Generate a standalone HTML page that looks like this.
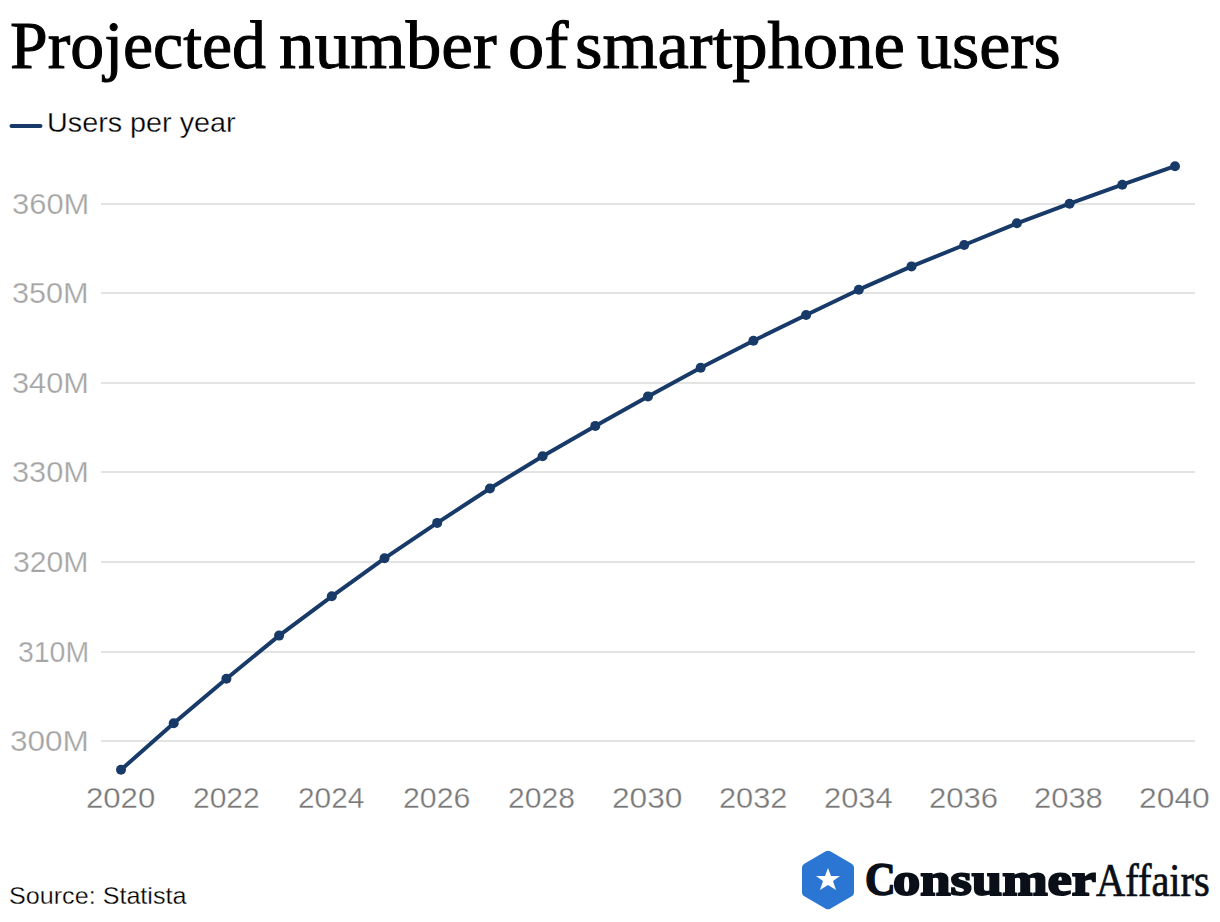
<!DOCTYPE html>
<html>
<head>
<meta charset="utf-8">
<style>
html,body{margin:0;padding:0;background:#fff;}
body{width:1220px;height:922px;position:relative;overflow:hidden;}
svg{position:absolute;left:0;top:0;}
.t{position:absolute;white-space:nowrap;line-height:1;transform-origin:0 0;}
</style>
</head>
<body>
<svg width="1220" height="922" viewBox="0 0 1220 922">
  <g fill="#e3e3e3">
    <rect x="101" y="203" width="1094" height="2"/>
    <rect x="101" y="292" width="1094" height="2"/>
    <rect x="101" y="382" width="1094" height="2"/>
    <rect x="101" y="471" width="1094" height="2"/>
    <rect x="101" y="561" width="1094" height="2"/>
    <rect x="101" y="651" width="1094" height="2"/>
    <rect x="101" y="740" width="1094" height="2"/>
  </g>
  <line x1="11.5" y1="126" x2="40.5" y2="126" stroke="#173a69" stroke-width="4" stroke-linecap="round"/>
  <polyline fill="none" stroke="#173a69" stroke-width="4" stroke-linejoin="round" points="121.0,769.8 173.7,723.3 226.4,678.7 279.1,635.6 331.8,596.3 384.5,558.3 437.2,522.9 489.9,488.5 542.6,456.2 595.3,425.9 648.0,396.4 700.7,367.8 753.4,340.8 806.1,315.0 858.8,289.7 911.5,266.4 964.2,245.0 1016.9,223.3 1069.6,203.7 1122.3,184.7 1175.0,166.2"/>
  <g fill="#173a69">
<circle cx="121.0" cy="769.8" r="5"/><circle cx="173.7" cy="723.3" r="5"/><circle cx="226.4" cy="678.7" r="5"/><circle cx="279.1" cy="635.6" r="5"/><circle cx="331.8" cy="596.3" r="5"/><circle cx="384.5" cy="558.3" r="5"/><circle cx="437.2" cy="522.9" r="5"/><circle cx="489.9" cy="488.5" r="5"/><circle cx="542.6" cy="456.2" r="5"/><circle cx="595.3" cy="425.9" r="5"/><circle cx="648.0" cy="396.4" r="5"/><circle cx="700.7" cy="367.8" r="5"/><circle cx="753.4" cy="340.8" r="5"/><circle cx="806.1" cy="315.0" r="5"/><circle cx="858.8" cy="289.7" r="5"/><circle cx="911.5" cy="266.4" r="5"/><circle cx="964.2" cy="245.0" r="5"/><circle cx="1016.9" cy="223.3" r="5"/><circle cx="1069.6" cy="203.7" r="5"/><circle cx="1122.3" cy="184.7" r="5"/><circle cx="1175.0" cy="166.2" r="5"/>
  </g>
  <path d="M828 855.2 L849.5 867.6 L849.5 892.4 L828 904.8 L806.5 892.4 L806.5 867.6 Z" fill="#2b76d2" stroke="#2b76d2" stroke-width="9" stroke-linejoin="round"/>
  <path d="M828 868 L831 876 L840 876 L833 881 L836 890 L828 885 L820 890 L823 881 L816 876 L825 876 Z" fill="#fff"/>
</svg>

<div class="t" style="left:9.70px;top:11.00px;transform:scaleX(0.9969);color:#000000;font-family:'Liberation Serif',serif;font-weight:400;font-size:68px;-webkit-text-stroke:1.0px #000000">Projected</div>
<div class="t" style="left:278.95px;top:11.00px;transform:scaleX(1.0483);color:#000000;font-family:'Liberation Serif',serif;font-weight:400;font-size:68px;-webkit-text-stroke:1.0px #000000">number</div>
<div class="t" style="left:508.37px;top:11.00px;transform:scaleX(1.0673);color:#000000;font-family:'Liberation Serif',serif;font-weight:400;font-size:68px;-webkit-text-stroke:1.0px #000000">of</div>
<div class="t" style="left:574.62px;top:11.00px;transform:scaleX(1.0401);color:#000000;font-family:'Liberation Serif',serif;font-weight:400;font-size:68px;-webkit-text-stroke:1.0px #000000">smartphone</div>
<div class="t" style="left:917.40px;top:11.00px;transform:scaleX(1.0283);color:#000000;font-family:'Liberation Serif',serif;font-weight:400;font-size:68px;-webkit-text-stroke:1.0px #000000">users</div>
<div class="t" style="left:46.85px;top:109.00px;transform:scaleX(1.0271);color:#000000;font-family:'Liberation Sans',sans-serif;font-weight:400;font-size:28px;-webkit-text-stroke:0.3px #fff">Users per year</div>
<div class="t" style="left:11.63px;top:190.02px;transform:scaleX(1.0657);color:#a5a5a5;font-family:'Liberation Sans',sans-serif;font-weight:400;font-size:29px;-webkit-text-stroke:0.25px #fff">360M</div>
<div class="t" style="left:12.34px;top:279.22px;transform:scaleX(1.0557);color:#a5a5a5;font-family:'Liberation Sans',sans-serif;font-weight:400;font-size:29px;-webkit-text-stroke:0.25px #fff">350M</div>
<div class="t" style="left:12.04px;top:369.22px;transform:scaleX(1.0600);color:#a5a5a5;font-family:'Liberation Sans',sans-serif;font-weight:400;font-size:29px;-webkit-text-stroke:0.25px #fff">340M</div>
<div class="t" style="left:12.04px;top:458.22px;transform:scaleX(1.0600);color:#a5a5a5;font-family:'Liberation Sans',sans-serif;font-weight:400;font-size:29px;-webkit-text-stroke:0.25px #fff">330M</div>
<div class="t" style="left:13.46px;top:548.02px;transform:scaleX(1.0400);color:#a5a5a5;font-family:'Liberation Sans',sans-serif;font-weight:400;font-size:29px;-webkit-text-stroke:0.25px #fff">320M</div>
<div class="t" style="left:17.72px;top:638.02px;transform:scaleX(0.9800);color:#a5a5a5;font-family:'Liberation Sans',sans-serif;font-weight:400;font-size:29px;-webkit-text-stroke:0.25px #fff">310M</div>
<div class="t" style="left:10.11px;top:727.22px;transform:scaleX(1.0871);color:#a5a5a5;font-family:'Liberation Sans',sans-serif;font-weight:400;font-size:29px;-webkit-text-stroke:0.25px #fff">300M</div>
<div class="t" style="left:85.63px;top:784.00px;transform:scaleX(1.0730);color:#787878;font-family:'Liberation Sans',sans-serif;font-weight:400;font-size:29px;-webkit-text-stroke:0.3px #fff">2020</div>
<div class="t" style="left:193.07px;top:784.00px;transform:scaleX(1.0339);color:#787878;font-family:'Liberation Sans',sans-serif;font-weight:400;font-size:29px;-webkit-text-stroke:0.3px #fff">2022</div>
<div class="t" style="left:297.87px;top:784.00px;transform:scaleX(1.0270);color:#787878;font-family:'Liberation Sans',sans-serif;font-weight:400;font-size:29px;-webkit-text-stroke:0.3px #fff">2024</div>
<div class="t" style="left:403.06px;top:784.00px;transform:scaleX(1.0429);color:#787878;font-family:'Liberation Sans',sans-serif;font-weight:400;font-size:29px;-webkit-text-stroke:0.3px #fff">2026</div>
<div class="t" style="left:508.36px;top:784.00px;transform:scaleX(1.0365);color:#787878;font-family:'Liberation Sans',sans-serif;font-weight:400;font-size:29px;-webkit-text-stroke:0.3px #fff">2028</div>
<div class="t" style="left:612.01px;top:784.00px;transform:scaleX(1.0921);color:#787878;font-family:'Liberation Sans',sans-serif;font-weight:400;font-size:29px;-webkit-text-stroke:0.3px #fff">2030</div>
<div class="t" style="left:719.14px;top:784.00px;transform:scaleX(1.0597);color:#787878;font-family:'Liberation Sans',sans-serif;font-weight:400;font-size:29px;-webkit-text-stroke:0.3px #fff">2032</div>
<div class="t" style="left:823.84px;top:784.00px;transform:scaleX(1.0635);color:#787878;font-family:'Liberation Sans',sans-serif;font-weight:400;font-size:29px;-webkit-text-stroke:0.3px #fff">2034</div>
<div class="t" style="left:928.63px;top:784.00px;transform:scaleX(1.0714);color:#787878;font-family:'Liberation Sans',sans-serif;font-weight:400;font-size:29px;-webkit-text-stroke:0.3px #fff">2036</div>
<div class="t" style="left:1034.13px;top:784.00px;transform:scaleX(1.0667);color:#787878;font-family:'Liberation Sans',sans-serif;font-weight:400;font-size:29px;-webkit-text-stroke:0.3px #fff">2038</div>
<div class="t" style="left:1138.50px;top:784.00px;transform:scaleX(1.0968);color:#787878;font-family:'Liberation Sans',sans-serif;font-weight:400;font-size:29px;-webkit-text-stroke:0.3px #fff">2040</div>
<div class="t" style="left:9.37px;top:884.00px;transform:scaleX(1.0262);color:#000000;font-family:'Liberation Sans',sans-serif;font-weight:400;font-size:24.5px;-webkit-text-stroke:0.3px #fff">Source: Statista</div>
<div class="t" style="left:864.70px;top:856.20px;transform:scaleX(0.9000);color:#0a0f18;font-family:'Liberation Serif',serif;font-weight:700;font-size:47px;-webkit-text-stroke:1.6px #0a0f18">C</div>
<div class="t" style="left:893.24px;top:856.20px;transform:scaleX(1.1603);color:#0a0f18;font-family:'Liberation Serif',serif;font-weight:700;font-size:47px;-webkit-text-stroke:2.0px #0a0f18">onsumer</div>
<div class="t" style="left:1096.20px;top:857.50px;transform:scaleX(0.8890);color:#0a0f18;font-family:'Liberation Serif',serif;font-weight:400;font-size:45.5px;-webkit-text-stroke:0.7px #0a0f18">Affairs</div>
</body>
</html>
